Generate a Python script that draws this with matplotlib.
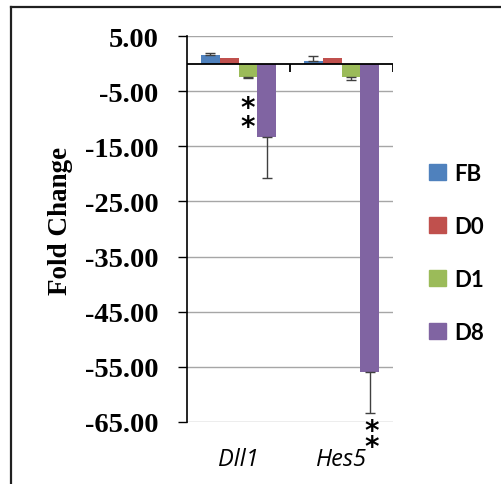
import matplotlib
matplotlib.use("Agg")
import matplotlib.pyplot as plt
from matplotlib.lines import Line2D
import numpy as np

genes = ["Dll1", "Hes5"]
series = ["FB", "D0", "D1", "D8"]
values = {
    "FB": [1.6, 0.4],
    "D0": [0.95, 0.95],
    "D1": [-2.5, -2.5],
    "D8": [-13.4, -55.9],
}
errors = {
    "FB": [0.25, 0.9],
    "D0": [0.0, 0.0],
    "D1": [0.1, 0.45],
    "D8": [7.3, 7.4],
}
colors = {"FB": "#4F81BD", "D0": "#C0504D", "D1": "#9BBB59", "D8": "#8064A2"}
yticks = [5, -5, -15, -25, -35, -45, -55, -65]
ytick_labels = ["5.00", "-5.00", "-15.00", "-25.00", "-35.00", "-45.00", "-55.00", "-65.00"]

fig = plt.figure(figsize=(5.01, 4.85), dpi=100)
ax = fig.add_axes([187/501, 1-423/485, 206/501, 386/485])

x = np.arange(len(genes))
w = 0.1816
for i, s in enumerate(series):
    off = (i - 1.5) * w
    vals = np.array(values[s])
    errs = np.array(errors[s])
    ax.bar(x + off, vals, width=w, color=colors[s], zorder=3, label=s)
    lower = np.where(vals < 0, errs, 0)
    upper = np.where(vals >= 0, errs, 0)
    mask = errs > 0
    ax.errorbar((x + off)[mask], vals[mask], yerr=[lower[mask], upper[mask]],
                fmt="none", ecolor="#404040", elinewidth=1, capsize=3.5, capthick=1, zorder=4)

ax.set_xlim(-0.5, 1.5)
ax.set_ylim(-65, 5)
ax.set_yticks(yticks)
ax.set_yticklabels(ytick_labels, fontfamily="Liberation Serif", fontweight="bold", fontsize=20.5)
ax.yaxis.grid(True, color="#A6A6A6", linewidth=1.0, zorder=0)
ax.set_axisbelow(True)
ax.tick_params(axis="y", length=6.5, width=1, pad=14, color="black")
for sp in ["top", "right", "bottom"]:
    ax.spines[sp].set_visible(False)
ax.spines["left"].set_linewidth(1.2)

# category axis crossing at zero
ax.axhline(0, color="black", linewidth=1.3, zorder=5)
ax.vlines([0.5, 1.5], 0, -1.6, color="black", linewidth=1.3, zorder=5)

ax.set_xticks(x)
ax.set_xticklabels(genes, fontfamily="Open Sans", fontstyle="italic", fontsize=17)
ax.tick_params(axis="x", length=0, pad=18)

ax.set_ylabel("Fold Change", fontfamily="Liberation Serif", fontweight="bold", fontsize=19.5)
ax.yaxis.set_label_coords((73-187)/206, (423-221)/386)

# significance asterisks
star_kw = dict(fontfamily="DejaVu Sans", fontweight="bold", fontsize=20, ha="center",
               va="center", color="black", clip_on=False, zorder=6)
ax.text(0.092, -9.8, "*\n*", linespacing=0.62, **star_kw)
ax.text(1.29, -68.1, "*\n*", linespacing=0.42, **star_kw)

# legend
handles = [plt.Rectangle((0, 0), 1, 1, color=colors[s]) for s in series]
leg = fig.legend(handles, series, loc="upper left", bbox_to_anchor=(409/501, 1-144/485),
                 frameon=False, prop={"family": "Lato", "weight": "bold", "size": 16},
                 handlelength=0.75, handleheight=0.75, handletextpad=0.4, labelspacing=1.44)

# frame lines
fig.add_artist(Line2D([11/501, 11/501], [0, 1-8/485], color="#202020", linewidth=1.6, transform=fig.transFigure))
fig.add_artist(Line2D([11/501, 1], [1-8/485, 1-8/485], color="#202020", linewidth=1.6, transform=fig.transFigure))

fig.savefig("out.png", dpi=100)
